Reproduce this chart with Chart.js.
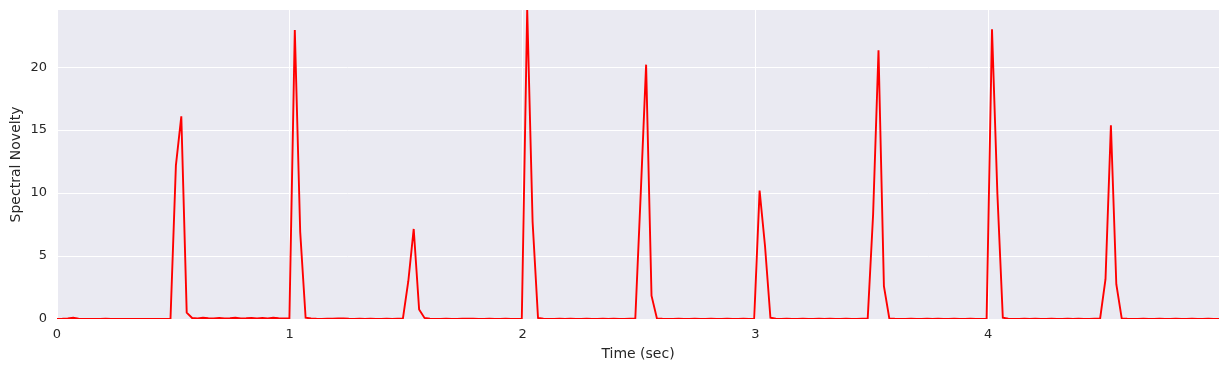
<!DOCTYPE html>
<html>
<head>
<meta charset="utf-8">
<script src="https://cdn.jsdelivr.net/npm/chart.js@4"></script>
<style>
    html, body { margin: 0; padding: 0; background: #ffffff; }
    #wrap { width: 1229px; height: 371px; }
</style>
</head>
<body>
<div id="wrap"><canvas id="noveltyChart"></canvas></div>
<script>
// frame hop of the novelty curve (512 samples at 22050 Hz)
var frameDur = 512 / 22050;

var xTicks = [0, 1, 2, 3, 4];
var yTicks = [0, 5, 10, 15, 20];

// spectral novelty, one value per frame (216 frames)
var novelty = [
    0, 0.02, 0.05, 0.1, 0.03, 0.01, 0, 0, 0.01, 0.02, 0.01, 0,
    0, 0, 0.01, 0, 0, 0.01, 0, 0, 0, 0.02,
    12.2, 16.1, 0.5,
    0.08, 0.05, 0.1, 0.06, 0.04, 0.09, 0.05, 0.07, 0.1, 0.04, 0.06, 0.09,
    0.05, 0.08, 0.04, 0.1, 0.06, 0.05,
    0.04, 22.95, 6.9, 0.1,
    0.04, 0.02, 0.01, 0.02, 0.03, 0.05, 0.04, 0.02, 0.01, 0.02, 0.01, 0.02,
    0.01, 0.01, 0.02, 0.01, 0.02,
    0.03, 3.0, 7.15, 0.75, 0.08,
    0.02, 0.01, 0.01, 0.02, 0.01, 0.01, 0.02, 0.03, 0.02, 0.01, 0.01, 0.02,
    0.01, 0.01, 0.02, 0.01, 0.01,
    0.02, 24.6, 7.7, 0.08,
    0.02, 0.01, 0.01, 0.02, 0.01, 0.02, 0.01, 0.01, 0.02, 0.01, 0.01, 0.02,
    0.01, 0.02, 0.01, 0.01, 0.02,
    0.02, 9.9, 20.2, 1.85, 0.05,
    0.02, 0.01, 0.01, 0.02, 0.01, 0.01, 0.02, 0.01, 0.01, 0.02, 0.01, 0.01,
    0.02, 0.01, 0.01, 0.02, 0.01,
    0.03, 10.2, 5.8, 0.1,
    0.02, 0.01, 0.02, 0.01, 0.01, 0.02, 0.01, 0.01, 0.02, 0.01, 0.02, 0.01,
    0.01, 0.02, 0.01, 0.01, 0.02,
    0.03, 8.3, 21.35, 2.6, 0.05,
    0.02, 0.01, 0.01, 0.02, 0.01, 0.01, 0.02, 0.01, 0.02, 0.01, 0.01, 0.02,
    0.01, 0.01, 0.02, 0.01, 0.01,
    0.03, 23.0, 9.9, 0.1,
    0.02, 0.01, 0.01, 0.02, 0.01, 0.02, 0.01, 0.01, 0.02, 0.01, 0.01, 0.02,
    0.01, 0.02, 0.01, 0.01, 0.02,
    0.02, 3.16, 15.38, 2.76, 0.05,
    0.02, 0.01, 0.01, 0.02, 0.01, 0.01, 0.02, 0.01, 0.01, 0.02, 0.01, 0.01,
    0.02, 0.01, 0.01, 0.02, 0.01, 0.01
];

var yMax = 24.54;

window.addEventListener('load', drawChart);

function drawChart() {
    var ctx = document.getElementById("noveltyChart");

    var points = [];
    for (var i = 0; i < novelty.length; ++i) {
        points.push({ x: i * frameDur, y: novelty[i] });
    }
    var tMax = (novelty.length - 1) * frameDur;

    var plotBackground = {
        id: 'plotBackground',
        beforeDraw: function (chart) {
            var a = chart.chartArea;
            var c = chart.ctx;
            c.save();
            c.fillStyle = '#EAEAF2';
            c.fillRect(a.left, a.top, a.right - a.left, a.bottom - a.top);
            c.restore();
        }
    };

    var textColor = '#262626';
    var tickFont = { family: 'DejaVu Sans', size: 13 };
    var titleFont = { family: 'DejaVu Sans', size: 14 };

    new Chart(ctx, {
        type: 'line',
        data: {
            datasets: [{
                data: points,
                borderColor: '#ff0000',
                borderWidth: 1.9,
                pointRadius: 0,
                tension: 0,
                fill: false
            }]
        },
        options: {
            responsive: true,
            maintainAspectRatio: false,
            animation: false,
            events: [],
            layout: { padding: { top: 10, right: 10, left: 0, bottom: 0 } },
            plugins: {
                legend: { display: false },
                tooltip: { enabled: false }
            },
            scales: {
                x: {
                    type: 'linear',
                    min: 0,
                    max: tMax,
                    afterFit: function (scale) {
                        scale.height = 52;
                        scale.paddingLeft = 0;
                        scale.paddingRight = 0;
                    },
                    afterBuildTicks: function (scale) {
                        scale.ticks = xTicks.map(function (v) { return { value: v }; });
                    },
                    ticks: {
                        includeBounds: false,
                        color: textColor,
                        font: tickFont,
                        padding: 8,
                        maxRotation: 0,
                        callback: function (v) { return String(v); }
                    },
                    grid: { color: '#ffffff', lineWidth: 1, drawTicks: false },
                    border: { display: false },
                    title: {
                        display: true,
                        text: 'Time (sec)',
                        color: textColor,
                        font: titleFont,
                        padding: { top: 4, bottom: 8 }
                    }
                },
                y: {
                    min: 0,
                    max: yMax,
                    afterFit: function (scale) {
                        scale.width = 57;
                        scale.paddingTop = 0;
                        scale.paddingBottom = 0;
                    },
                    afterBuildTicks: function (scale) {
                        scale.ticks = yTicks.map(function (v) { return { value: v }; });
                    },
                    ticks: {
                        includeBounds: false,
                        color: textColor,
                        font: tickFont,
                        padding: 10,
                        callback: function (v) { return String(v); }
                    },
                    grid: { color: '#ffffff', lineWidth: 1, drawTicks: false },
                    border: { display: false },
                    title: {
                        display: true,
                        text: 'Spectral Novelty',
                        color: textColor,
                        font: titleFont,
                        padding: { top: 8, bottom: 4 }
                    }
                }
            }
        },
        plugins: [plotBackground]
    });
}
</script>
</body>
</html>
